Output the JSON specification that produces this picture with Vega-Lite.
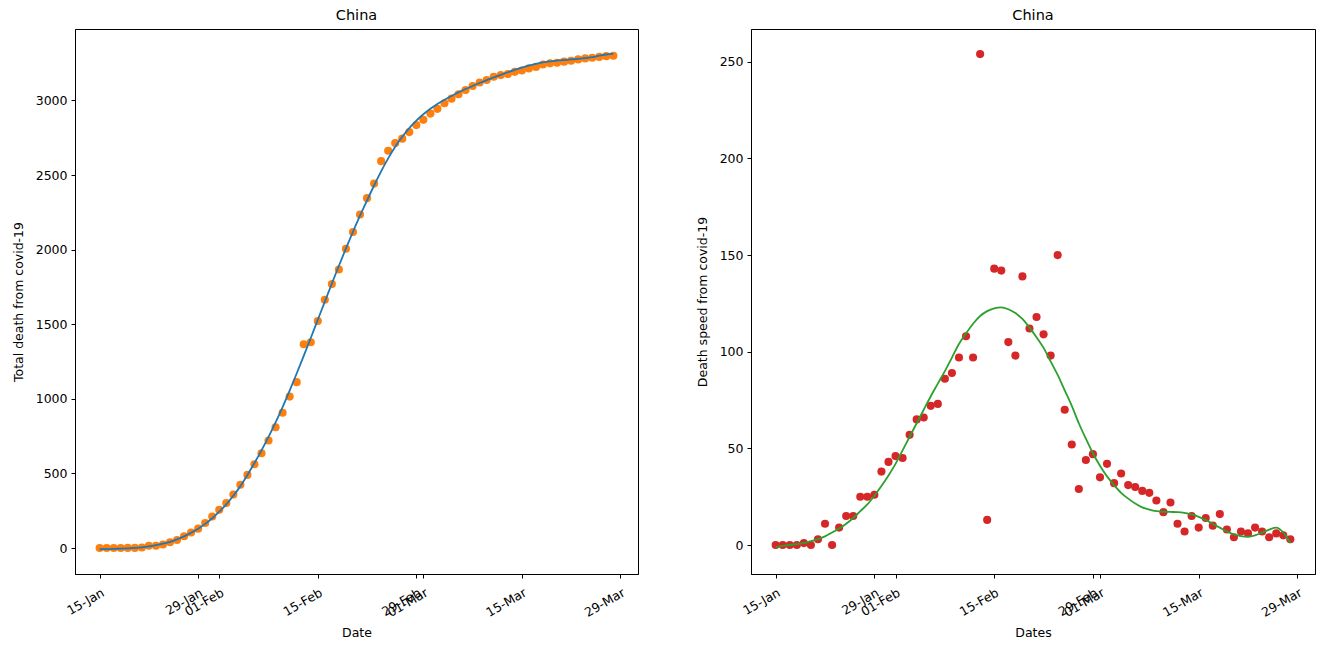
{
  "$schema": "https://vega.github.io/schema/vega-lite/v6.json",
  "background": "white",
  "padding": {"left": 11, "top": 7, "right": 10, "bottom": 5},
  "spacing": 56,
  "config": {
    "font": "DejaVu Sans",
    "view": {"stroke": "black", "strokeWidth": 1},
    "axis": {
      "grid": false,
      "domainColor": "black",
      "tickColor": "black",
      "labelColor": "black",
      "titleColor": "black",
      "labelFont": "DejaVu Sans",
      "titleFont": "DejaVu Sans",
      "labelFontSize": 12.5,
      "titleFontSize": 12.5,
      "titleFontWeight": "normal",
      "tickSize": 4,
      "labelPadding": 4
    },
    "title": {"font": "DejaVu Sans", "fontSize": 14.5, "fontWeight": "normal", "color": "black", "offset": 6}
  },
  "data": {
    "values": [
      {"date": "2020-01-15T00:00:00", "total": 0, "speed": 0, "fit_total": -8, "fit_speed": -1},
      {"date": "2020-01-16T00:00:00", "total": 0, "speed": 0, "fit_total": -7, "fit_speed": -0.5},
      {"date": "2020-01-17T00:00:00", "total": 0, "speed": 0, "fit_total": -6, "fit_speed": 0},
      {"date": "2020-01-18T00:00:00", "total": 0, "speed": 0, "fit_total": -4, "fit_speed": 0.5},
      {"date": "2020-01-19T00:00:00", "total": 1, "speed": 1, "fit_total": -2, "fit_speed": 1},
      {"date": "2020-01-20T00:00:00", "total": 1, "speed": 0, "fit_total": 1, "fit_speed": 2},
      {"date": "2020-01-21T00:00:00", "total": 4, "speed": 3, "fit_total": 5, "fit_speed": 3},
      {"date": "2020-01-22T00:00:00", "total": 15, "speed": 11, "fit_total": 11, "fit_speed": 4.5},
      {"date": "2020-01-23T00:00:00", "total": 15, "speed": 0, "fit_total": 19, "fit_speed": 6.5},
      {"date": "2020-01-24T00:00:00", "total": 24, "speed": 9, "fit_total": 29, "fit_speed": 8.5},
      {"date": "2020-01-25T00:00:00", "total": 39, "speed": 15, "fit_total": 42, "fit_speed": 11},
      {"date": "2020-01-26T00:00:00", "total": 54, "speed": 15, "fit_total": 58, "fit_speed": 14},
      {"date": "2020-01-27T00:00:00", "total": 79, "speed": 25, "fit_total": 78, "fit_speed": 17.5},
      {"date": "2020-01-28T00:00:00", "total": 104, "speed": 25, "fit_total": 102, "fit_speed": 21},
      {"date": "2020-01-29T00:00:00", "total": 130, "speed": 26, "fit_total": 130, "fit_speed": 25.5},
      {"date": "2020-01-30T00:00:00", "total": 168, "speed": 38, "fit_total": 162, "fit_speed": 30.5},
      {"date": "2020-01-31T00:00:00", "total": 211, "speed": 43, "fit_total": 200, "fit_speed": 36},
      {"date": "2020-02-01T00:00:00", "total": 257, "speed": 46, "fit_total": 244, "fit_speed": 42},
      {"date": "2020-02-02T00:00:00", "total": 302, "speed": 45, "fit_total": 293, "fit_speed": 49},
      {"date": "2020-02-03T00:00:00", "total": 359, "speed": 57, "fit_total": 350, "fit_speed": 56},
      {"date": "2020-02-04T00:00:00", "total": 424, "speed": 65, "fit_total": 415, "fit_speed": 63},
      {"date": "2020-02-05T00:00:00", "total": 490, "speed": 66, "fit_total": 490, "fit_speed": 70},
      {"date": "2020-02-06T00:00:00", "total": 562, "speed": 72, "fit_total": 570, "fit_speed": 77},
      {"date": "2020-02-07T00:00:00", "total": 635, "speed": 73, "fit_total": 655, "fit_speed": 83.5},
      {"date": "2020-02-08T00:00:00", "total": 721, "speed": 86, "fit_total": 745, "fit_speed": 90},
      {"date": "2020-02-09T00:00:00", "total": 810, "speed": 89, "fit_total": 842, "fit_speed": 97},
      {"date": "2020-02-10T00:00:00", "total": 907, "speed": 97, "fit_total": 945, "fit_speed": 104},
      {"date": "2020-02-11T00:00:00", "total": 1015, "speed": 108, "fit_total": 1055, "fit_speed": 109.5},
      {"date": "2020-02-12T00:00:00", "total": 1112, "speed": 97, "fit_total": 1170, "fit_speed": 114.5},
      {"date": "2020-02-13T00:00:00", "total": 1366, "speed": 254, "fit_total": 1288, "fit_speed": 118.5},
      {"date": "2020-02-14T00:00:00", "total": 1379, "speed": 13, "fit_total": 1408, "fit_speed": 121},
      {"date": "2020-02-15T00:00:00", "total": 1522, "speed": 143, "fit_total": 1530, "fit_speed": 122.5},
      {"date": "2020-02-16T00:00:00", "total": 1664, "speed": 142, "fit_total": 1652, "fit_speed": 123},
      {"date": "2020-02-17T00:00:00", "total": 1769, "speed": 105, "fit_total": 1773, "fit_speed": 122},
      {"date": "2020-02-18T00:00:00", "total": 1867, "speed": 98, "fit_total": 1892, "fit_speed": 120},
      {"date": "2020-02-19T00:00:00", "total": 2006, "speed": 139, "fit_total": 2008, "fit_speed": 117},
      {"date": "2020-02-20T00:00:00", "total": 2118, "speed": 112, "fit_total": 2120, "fit_speed": 112.5},
      {"date": "2020-02-21T00:00:00", "total": 2236, "speed": 118, "fit_total": 2228, "fit_speed": 107.5},
      {"date": "2020-02-22T00:00:00", "total": 2345, "speed": 109, "fit_total": 2330, "fit_speed": 102},
      {"date": "2020-02-23T00:00:00", "total": 2443, "speed": 98, "fit_total": 2430, "fit_speed": 95},
      {"date": "2020-02-24T00:00:00", "total": 2593, "speed": 150, "fit_total": 2525, "fit_speed": 88},
      {"date": "2020-02-25T00:00:00", "total": 2663, "speed": 70, "fit_total": 2612, "fit_speed": 80},
      {"date": "2020-02-26T00:00:00", "total": 2715, "speed": 52, "fit_total": 2690, "fit_speed": 72},
      {"date": "2020-02-27T00:00:00", "total": 2744, "speed": 29, "fit_total": 2757, "fit_speed": 63},
      {"date": "2020-02-28T00:00:00", "total": 2788, "speed": 44, "fit_total": 2815, "fit_speed": 55},
      {"date": "2020-02-29T00:00:00", "total": 2835, "speed": 47, "fit_total": 2865, "fit_speed": 47.5},
      {"date": "2020-03-01T00:00:00", "total": 2870, "speed": 35, "fit_total": 2908, "fit_speed": 41},
      {"date": "2020-03-02T00:00:00", "total": 2912, "speed": 42, "fit_total": 2945, "fit_speed": 35.5},
      {"date": "2020-03-03T00:00:00", "total": 2944, "speed": 32, "fit_total": 2977, "fit_speed": 31},
      {"date": "2020-03-04T00:00:00", "total": 2981, "speed": 37, "fit_total": 3005, "fit_speed": 27},
      {"date": "2020-03-05T00:00:00", "total": 3012, "speed": 31, "fit_total": 3030, "fit_speed": 24},
      {"date": "2020-03-06T00:00:00", "total": 3042, "speed": 30, "fit_total": 3055, "fit_speed": 21.5},
      {"date": "2020-03-07T00:00:00", "total": 3070, "speed": 28, "fit_total": 3077, "fit_speed": 19.5},
      {"date": "2020-03-08T00:00:00", "total": 3097, "speed": 27, "fit_total": 3097, "fit_speed": 18.3},
      {"date": "2020-03-09T00:00:00", "total": 3120, "speed": 23, "fit_total": 3117, "fit_speed": 17.5},
      {"date": "2020-03-10T00:00:00", "total": 3137, "speed": 17, "fit_total": 3136, "fit_speed": 17.2},
      {"date": "2020-03-11T00:00:00", "total": 3159, "speed": 22, "fit_total": 3154, "fit_speed": 17.1},
      {"date": "2020-03-12T00:00:00", "total": 3170, "speed": 11, "fit_total": 3172, "fit_speed": 17},
      {"date": "2020-03-13T00:00:00", "total": 3177, "speed": 7, "fit_total": 3189, "fit_speed": 16.6},
      {"date": "2020-03-14T00:00:00", "total": 3192, "speed": 15, "fit_total": 3205, "fit_speed": 15.8},
      {"date": "2020-03-15T00:00:00", "total": 3201, "speed": 9, "fit_total": 3220, "fit_speed": 14.6},
      {"date": "2020-03-16T00:00:00", "total": 3215, "speed": 14, "fit_total": 3234, "fit_speed": 13},
      {"date": "2020-03-17T00:00:00", "total": 3225, "speed": 10, "fit_total": 3246, "fit_speed": 11},
      {"date": "2020-03-18T00:00:00", "total": 3241, "speed": 16, "fit_total": 3255, "fit_speed": 9},
      {"date": "2020-03-19T00:00:00", "total": 3249, "speed": 8, "fit_total": 3262, "fit_speed": 7},
      {"date": "2020-03-20T00:00:00", "total": 3253, "speed": 4, "fit_total": 3267, "fit_speed": 5.5},
      {"date": "2020-03-21T00:00:00", "total": 3260, "speed": 7, "fit_total": 3271, "fit_speed": 4.6},
      {"date": "2020-03-22T00:00:00", "total": 3266, "speed": 6, "fit_total": 3275, "fit_speed": 4.3},
      {"date": "2020-03-23T00:00:00", "total": 3275, "speed": 9, "fit_total": 3279, "fit_speed": 5},
      {"date": "2020-03-24T00:00:00", "total": 3282, "speed": 7, "fit_total": 3284, "fit_speed": 6.4},
      {"date": "2020-03-25T00:00:00", "total": 3286, "speed": 4, "fit_total": 3291, "fit_speed": 8},
      {"date": "2020-03-26T00:00:00", "total": 3292, "speed": 6, "fit_total": 3300, "fit_speed": 9},
      {"date": "2020-03-27T00:00:00", "total": 3297, "speed": 5, "fit_total": 3308, "fit_speed": 6.5},
      {"date": "2020-03-28T00:00:00", "total": 3300, "speed": 3, "fit_total": 3312, "fit_speed": 1}
    ]
  },
  "hconcat": [
    {
      "title": "China",
      "width": 563,
      "height": 545,
      "encoding": {
        "x": {
          "field": "date",
          "type": "temporal",
          "title": "Date",
          "scale": {
            "domain": [
              {"year": 2020, "month": 1, "date": 11, "hours": 12},
              {"year": 2020, "month": 3, "date": 31, "hours": 12}
            ],
            "nice": false
          },
          "axis": {
            "values": [
              {"year": 2020, "month": 1, "date": 15},
              {"year": 2020, "month": 1, "date": 29},
              {"year": 2020, "month": 2, "date": 1},
              {"year": 2020, "month": 2, "date": 15},
              {"year": 2020, "month": 2, "date": 29},
              {"year": 2020, "month": 3, "date": 1},
              {"year": 2020, "month": 3, "date": 15},
              {"year": 2020, "month": 3, "date": 29}
            ],
            "format": "%d-%b",
            "labelAngle": -30,
            "labelAlign": "right",
            "labelBaseline": "top",
            "labelOverlap": false,
            "labelBound": false,
            "labelFlush": false,
            "labelPadding": 8,
            "titlePadding": 8
          }
        }
      },
      "layer": [
        {
          "mark": {"type": "point", "filled": true, "size": 66, "opacity": 1, "color": "#ff7f0e"},
          "encoding": {
            "y": {
              "field": "total",
              "type": "quantitative",
              "title": "Total death from covid-19",
              "scale": {"domain": [-174, 3479], "nice": false, "zero": false},
              "axis": {"values": [0, 500, 1000, 1500, 2000, 2500, 3000], "format": "d", "titlePadding": 10}
            }
          }
        },
        {
          "mark": {"type": "line", "color": "#1f77b4", "strokeWidth": 1.8, "interpolate": "monotone"},
          "encoding": {
            "y": {"field": "fit_total", "type": "quantitative"}
          }
        }
      ]
    },
    {
      "title": "China",
      "width": 564,
      "height": 545,
      "encoding": {
        "x": {
          "field": "date",
          "type": "temporal",
          "title": "Dates",
          "scale": {
            "domain": [
              {"year": 2020, "month": 1, "date": 11, "hours": 12},
              {"year": 2020, "month": 3, "date": 31, "hours": 12}
            ],
            "nice": false
          },
          "axis": {
            "values": [
              {"year": 2020, "month": 1, "date": 15},
              {"year": 2020, "month": 1, "date": 29},
              {"year": 2020, "month": 2, "date": 1},
              {"year": 2020, "month": 2, "date": 15},
              {"year": 2020, "month": 2, "date": 29},
              {"year": 2020, "month": 3, "date": 1},
              {"year": 2020, "month": 3, "date": 15},
              {"year": 2020, "month": 3, "date": 29}
            ],
            "format": "%d-%b",
            "labelAngle": -30,
            "labelAlign": "right",
            "labelBaseline": "top",
            "labelOverlap": false,
            "labelBound": false,
            "labelFlush": false,
            "labelPadding": 8,
            "titlePadding": 8
          }
        }
      },
      "layer": [
        {
          "mark": {"type": "point", "filled": true, "size": 66, "opacity": 1, "color": "#d62728"},
          "encoding": {
            "y": {
              "field": "speed",
              "type": "quantitative",
              "title": "Death speed from covid-19",
              "scale": {"domain": [-15, 267], "nice": false, "zero": false},
              "axis": {"values": [0, 50, 100, 150, 200, 250], "format": "d", "titlePadding": 10}
            }
          }
        },
        {
          "mark": {"type": "line", "color": "#2ca02c", "strokeWidth": 1.8, "interpolate": "monotone"},
          "encoding": {
            "y": {"field": "fit_speed", "type": "quantitative"}
          }
        }
      ]
    }
  ]
}
